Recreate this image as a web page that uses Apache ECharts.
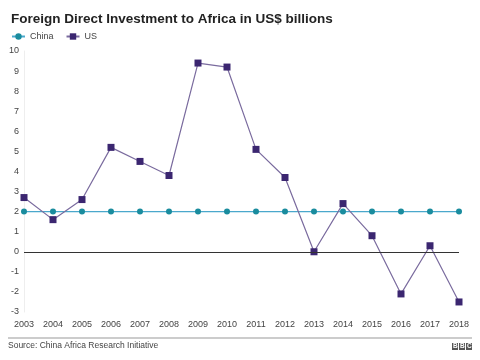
<!DOCTYPE html>
<html><head><meta charset="utf-8">
<script src="https://cdn.jsdelivr.net/npm/echarts@6/dist/echarts.min.js"></script>
<style>html,body{margin:0;padding:0;background:#fff}#c{width:480px;height:360px}</style>
</head><body><div id="c"></div>
<script>
const years = ['2003','2004','2005','2006','2007','2008','2009','2010','2011','2012','2013','2014','2015','2016','2017','2018'];
const china = [2,2,2,2,2,2,2,2,2,2,2,2,2,2,2,2];
const us = [2.7,1.6,2.6,5.2,4.5,3.8,9.4,9.2,5.1,3.7,0,2.4,0.8,-2.1,0.3,-2.5];
const yMin = -3, yMax = 10;
const F = 'Liberation Sans, Arial, sans-serif';
const chart = echarts.init(document.getElementById('c'), null, {renderer:'canvas'});
chart.setOption({
  animation:false,
  textStyle:{fontFamily:F},
  title:{text:'Foreign Direct Investment to Africa in US$ billions', left:6, top:7,
    textStyle:{fontSize:13.5, fontWeight:'bold', color:'#222', fontFamily:F}},
  legend:{left:6, top:27, itemWidth:13, itemHeight:8, itemGap:12,
    textStyle:{fontSize:9, color:'#444', fontFamily:F},
    data:['China','US']},
  grid:{left:24, right:21, top:51, bottom:48, containLabel:false},
  xAxis:{type:'category', data:years, boundaryGap:false,
    axisLine:{show:false}, axisTick:{show:false},
    axisLabel:{fontSize:9, color:'#444', margin:8, interval:0}},
  yAxis:{type:'value', min:yMin, max:yMax, interval:1,
    splitLine:{show:false},
    axisLine:{show:true, lineStyle:{color:'#eeeeee', width:1}},
    axisTick:{show:false},
    axisLabel:{fontSize:9, color:'#444', margin:5}},
  graphic:[
    {type:'line', shape:{x1:8,y1:338,x2:472,y2:338}, style:{stroke:'#999', lineWidth:1}},
    {type:'text', left:8, top:341, style:{text:'Source: China Africa Research Initiative', fontSize:8.5, fill:'#444', fontFamily:F}},
    {type:'group', right:8, top:343, children:[
      {type:'rect', shape:{x:0,y:0,width:6,height:7}, style:{fill:'#555'}},
      {type:'rect', shape:{x:7,y:0,width:6,height:7}, style:{fill:'#555'}},
      {type:'rect', shape:{x:14,y:0,width:6,height:7}, style:{fill:'#555'}},
      {type:'text', x:1, y:0, style:{text:'B', fontSize:6.5, fontWeight:'bold', fill:'#fff', fontFamily:F}},
      {type:'text', x:8, y:0, style:{text:'B', fontSize:6.5, fontWeight:'bold', fill:'#fff', fontFamily:F}},
      {type:'text', x:15, y:0, style:{text:'C', fontSize:6.5, fontWeight:'bold', fill:'#fff', fontFamily:F}}
    ]}
  ],
  series:[
    {name:'China', type:'line', data:china, symbol:'circle', symbolSize:6,
      itemStyle:{color:'#1a8c9e'}, lineStyle:{color:'#4aa8cc', width:1.3},
      markLine:{silent:true, symbol:'none', label:{show:false},
        lineStyle:{color:'#333', width:1.2, type:'solid'}, data:[{yAxis:0}]}},
    {name:'US', type:'line', data:us, symbol:'rect', symbolSize:7,
      itemStyle:{color:'#3b2670'}, lineStyle:{color:'#7a6b9e', width:1.2}, z:3}
  ]
});
</script></body></html>
